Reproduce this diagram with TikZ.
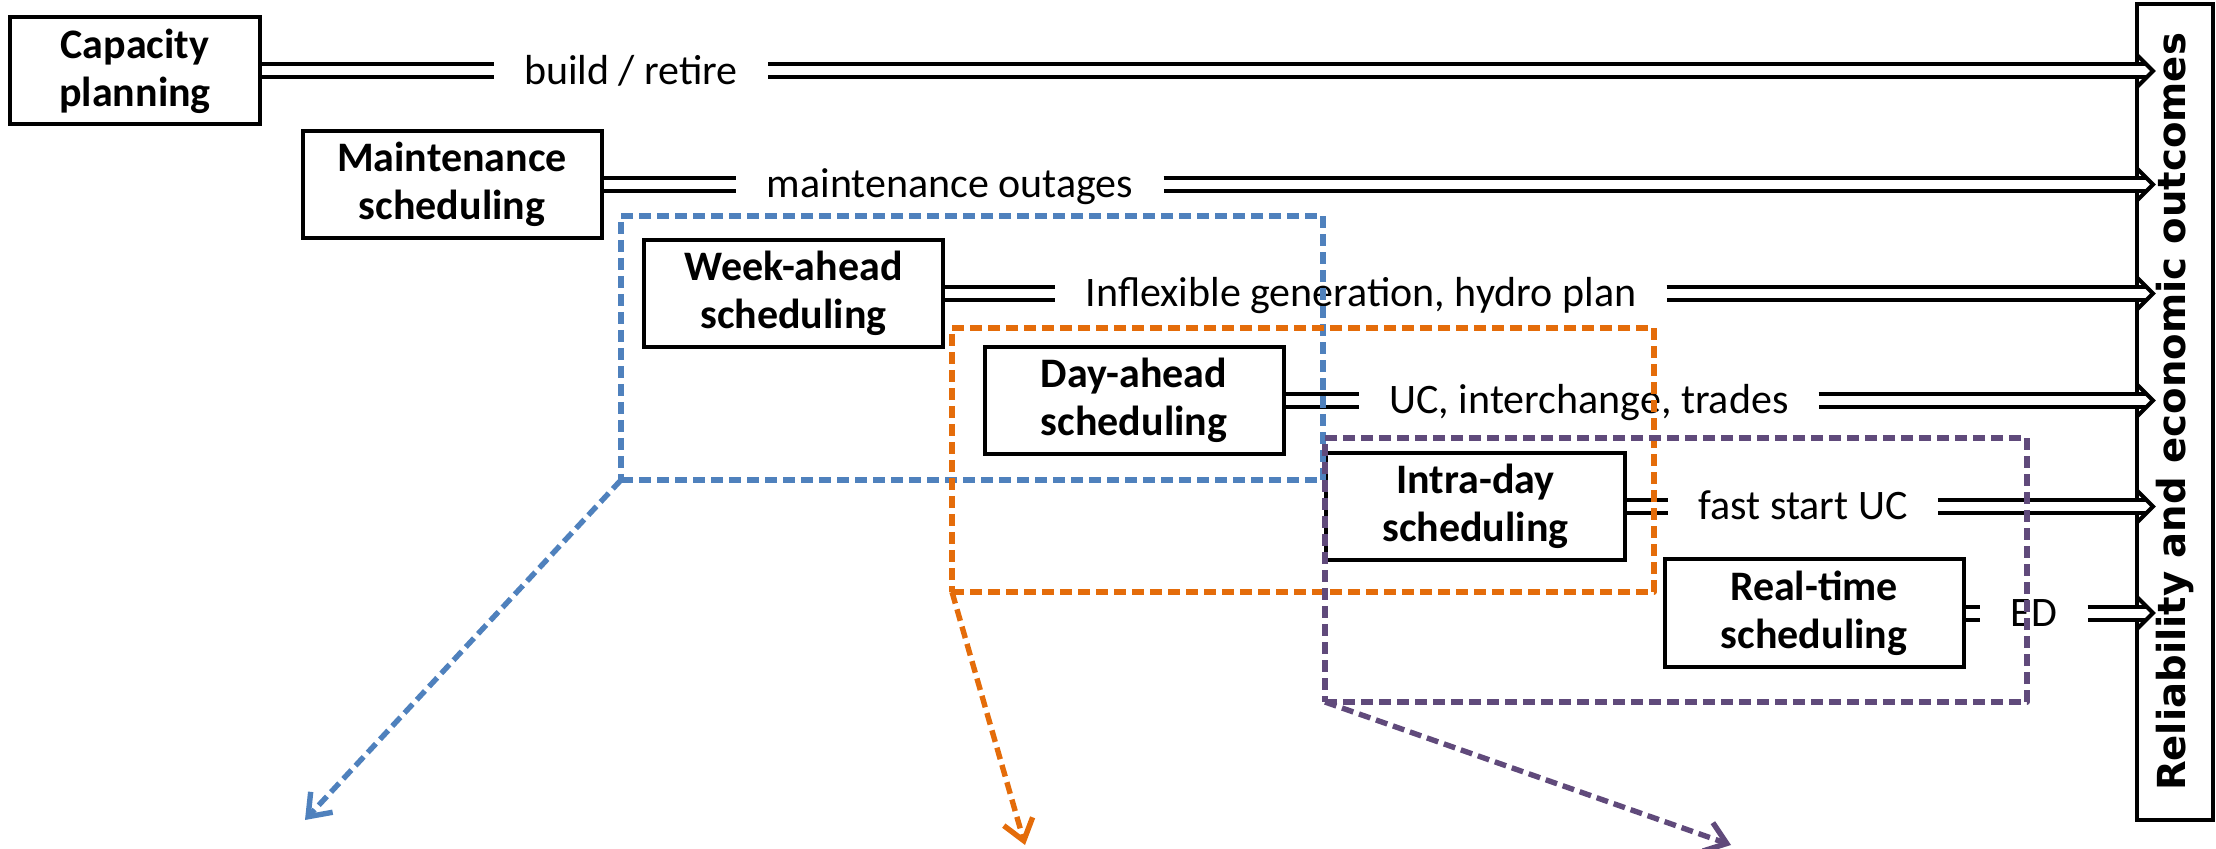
\documentclass[tikz,border=0pt]{standalone}
\usepackage{fontspec}
\setmainfont{Carlito}
\newfontfamily\outfont{DejaVu Sans}
\usetikzlibrary{arrows.meta,calc}
\definecolor{grpblue}{HTML}{4F81BD}
\definecolor{grporange}{HTML}{E46C0A}
\definecolor{grppurple}{HTML}{604A7B}
\begin{document}
\begin{tikzpicture}[x=0.5pt, y=-0.5pt,
  stage/.style={draw, line width=2pt, minimum width=149.5pt, minimum height=53.5pt,
    inner sep=0pt, align=center, font=\bfseries\fontsize{21}{24}\selectfont},
  flow/.style={font=\fontsize{21}{24}\selectfont, inner xsep=15pt, inner ysep=0pt, anchor=base},
  dbl/.style={double, line width=2pt, double distance=4.5pt},
  chevron/.style={line width=2pt, miter limit=10},
  grp/.style={dash pattern=on 6pt off 3pt, line width=2.7pt, minimum width=351pt,
    minimum height=132pt, inner sep=0pt, outer sep=0pt, line join=round},
  grparrow/.style={dash pattern=on 6pt off 3pt, line width=2.7pt,
    -{Straight Barb[length=10pt,width=15pt]}}
]
\useasboundingbox (0,0) rectangle (2216,849);

% planning and scheduling stages
\node[stage, minimum width=125pt] (cap) at (135,71) {Capacity\\planning};
\node[stage] (mnt) at (452,184.5) {Maintenance\\scheduling};
\node[stage] (wk)  at (793.5,293.5) {Week-ahead\\scheduling};
\node[stage] (da)  at (1134,400.5) {Day-ahead\\scheduling};
\node[stage] (id)  at (1475.5,506.5) {Intra-day\\scheduling};
\node[stage] (rt)  at (1814,613) {Real-time\\scheduling};

% outcome column
\node[draw, line width=2pt, rotate=90, minimum width=408pt, minimum height=38pt,
  inner sep=0pt, font=\outfont\bfseries\fontsize{19.3}{22}\selectfont]
  (out) at (2175,412) {Reliability and economic outcomes};

% decisions passed on
\node[flow] (l1) at (631,84.5) {build / retire};
\node[flow] (l2) at (950,198) {maintenance outages};
\node[flow] (l3) at (1361,307) {Inflexible generation, hydro plan};
\node[flow] (l4) at (1589,414) {UC, interchange, trades};
\node[flow] (l5) at (1803,520) {fast start UC};
\node[flow] (l6) at (2034,626.5) {ED};

\foreach \s/\l in {cap/l1, mnt/l2, wk/l3, da/l4, id/l5, rt/l6} {
  \coordinate (tip-\l) at ($(\s.east -| out.west)+(-22,0)$);
  \draw[dbl] (\s.east) -- (\s.east -| \l.west);
  \draw[dbl] (\s.east -| \l.east) -- ($(tip-\l)+(-6,0)$);
  \draw[chevron] ($(tip-\l)+(-16,-16)$) -- (tip-\l) -- ($(tip-\l)+(-16,16)$);
}

% scheduling horizons
\node[grp, draw=grpblue]   (gw) at (972,348) {};
\node[grp, draw=grporange] (gd) at (1303,460) {};
\node[grp, draw=grppurple] (gi) at (1676,570) {};

\coordinate (aw) at (305,820);
\coordinate (ad) at (1025,845);
\coordinate (ai) at (1731,845);
\draw[grparrow, draw=grpblue]   (gw.south west) -- (aw);
\draw[grparrow, draw=grporange] (gd.south west) -- (ad);
\draw[grparrow, draw=grppurple] (gi.south west) -- (ai);
\end{tikzpicture}
\end{document}
